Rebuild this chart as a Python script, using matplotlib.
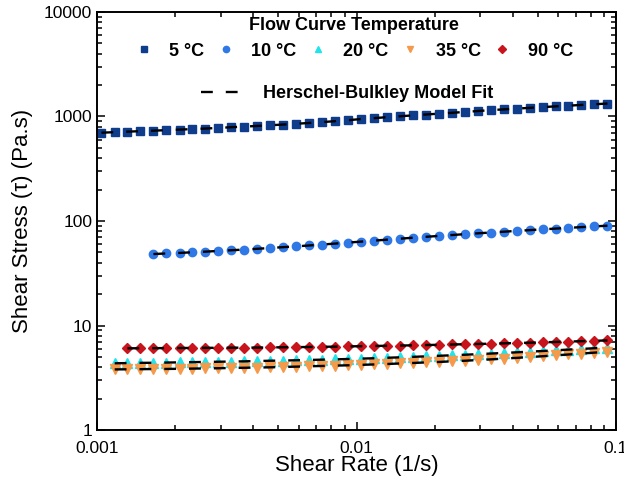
import matplotlib
matplotlib.use("Agg")
import matplotlib.pyplot as plt
from matplotlib.lines import Line2D
from matplotlib.ticker import FixedLocator, LogLocator, NullFormatter

plt.rcParams["font.family"] = ["Liberation Sans", "DejaVu Sans"]

# shear rate sweep (1/s), shared by every flow curve
shear_rate = [
    0.00104, 0.00117, 0.00131, 0.00147, 0.00165, 0.00185, 0.00208, 0.00233, 0.00261, 0.00293,
    0.00329, 0.00369, 0.00414, 0.00465, 0.00521, 0.00585, 0.00656, 0.00736, 0.00826, 0.00927,
    0.0104, 0.0117, 0.0131, 0.0147, 0.0165, 0.0185, 0.0208, 0.0233, 0.0261, 0.0293,
    0.0329, 0.0369, 0.0414, 0.0465, 0.0521, 0.0585, 0.0656, 0.0736, 0.0826, 0.0927,
]

# shear stress per temperature; first index into shear_rate given in start_idx
stress_5 = [
    700, 708, 716, 724, 732, 740, 749, 758, 767, 777,
    790, 800, 812, 824, 838, 852, 867, 884, 902, 922,
    945, 965, 985, 1005, 1025, 1045, 1065, 1085, 1105, 1128,
    1150, 1170, 1190, 1210, 1230, 1250, 1270, 1290, 1310, 1330,
]
stress_10 = [
    48.3, 48.9, 49.5, 50.2, 50.9, 51.7,
    52.5, 53.3, 54.2, 55.2, 56.2, 57.2, 58.3, 59.5, 60.8, 62.1,
    63.5, 64.9, 66.3, 67.7, 69.2, 70.6, 72.0, 73.4, 74.8, 76.2,
    77.6, 79.0, 80.4, 81.8, 83.2, 84.6, 86.0, 87.4, 88.8, 90.2,
]
stress_20 = [
    4.35, 4.37, 4.39, 4.40, 4.42, 4.44, 4.46, 4.48, 4.50,
    4.52, 4.54, 4.57, 4.60, 4.62, 4.65, 4.68, 4.71, 4.74, 4.78,
    4.82, 4.86, 4.91, 4.96, 5.01, 5.07, 5.13, 5.19, 5.25, 5.32,
    5.39, 5.46, 5.54, 5.62, 5.70, 5.79, 5.88, 5.97, 6.06, 6.15,
]
stress_35 = [
    3.80, 3.81, 3.82, 3.83, 3.84, 3.85, 3.87, 3.88, 3.90,
    3.92, 3.94, 3.96, 3.98, 4.01, 4.04, 4.07, 4.10, 4.13, 4.16,
    4.20, 4.24, 4.28, 4.33, 4.38, 4.43, 4.48, 4.54, 4.60, 4.67,
    4.74, 4.82, 4.90, 4.99, 5.08, 5.18, 5.28, 5.39, 5.50, 5.62,
]
stress_90 = [
    6.05, 6.06, 6.07, 6.08, 6.09, 6.10, 6.11, 6.12,
    6.13, 6.14, 6.15, 6.17, 6.19, 6.21, 6.23, 6.25, 6.28, 6.31,
    6.34, 6.37, 6.40, 6.43, 6.46, 6.50, 6.54, 6.58, 6.62, 6.66,
    6.70, 6.75, 6.80, 6.85, 6.90, 6.96, 7.02, 7.08, 7.14, 7.20,
]

labels = ["5 °C", "10 °C", "20 °C", "35 °C", "90 °C"]
series = [stress_5, stress_10, stress_20, stress_35, stress_90]
start_idx = [0, 4, 1, 1, 2]
colors = ["#0f3d8c", "#2f78e6", "#22e3ea", "#f59a4a", "#c8141c"]
markers = ["s", "o", "^", "v", "D"]
msizes = [5.5, 6, 6.5, 6.5, 5.2]

fig = plt.figure(figsize=(6.24, 4.94), dpi=100)
ax = fig.add_axes([97 / 624, 64 / 494, 519 / 624, 418 / 494])

dash = (0, (5.0, 5.5))
handles = []
for y, i0, lab, c, m, ms in zip(series, start_idx, labels, colors, markers, msizes):
    x = shear_rate[i0:i0 + len(y)]
    h, = ax.plot(x, y, ls="none", marker=m, ms=ms, color=c, mec=c, label=lab, zorder=2)
    ax.plot(x, y, ls=dash, color="black", lw=1.7, zorder=3)
    handles.append(h)

ax.set_xscale("log")
ax.set_yscale("log")
ax.set_xlim(0.001, 0.1)
ax.set_ylim(1, 10000)

ax.xaxis.set_major_locator(FixedLocator([0.001, 0.01, 0.1]))
ax.set_xticklabels(["0.001", "0.01", "0.1"])
ax.yaxis.set_major_locator(FixedLocator([1, 10, 100, 1000, 10000]))
ax.set_yticklabels(["1", "10", "100", "1000", "10000"])
for axis in (ax.xaxis, ax.yaxis):
    axis.set_minor_locator(LogLocator(base=10, subs=range(2, 10), numticks=20))
    axis.set_minor_formatter(NullFormatter())

ax.tick_params(which="both", direction="in", top=True, right=True, width=1.1, labelsize=12.5)
ax.tick_params(which="major", length=6)
ax.tick_params(which="minor", length=3.5)
ax.tick_params(axis="x", pad=8)
for sp in ax.spines.values():
    sp.set_linewidth(1.4)

ax.set_xlabel("Shear Rate (1/s)", fontsize=16, labelpad=-1)
ax.set_ylabel("Shear Stress (τ) (Pa.s)", fontsize=16, labelpad=8)

leg = ax.legend(handles=handles, ncol=5, loc="upper center", bbox_to_anchor=(0.495, 1.028),
                frameon=False, markerscale=0.75, handlelength=1.0, handletextpad=0.9,
                columnspacing=0.7, title="Flow Curve Temperature",
                prop={"weight": "bold", "size": 13},
                title_fontproperties={"weight": "bold", "size": 13})
ax.add_artist(leg)

fit_handle = Line2D([], [], ls=dash, color="black", lw=1.7)
ax.legend(handles=[fit_handle], labels=["Herschel-Bulkley Model Fit"], loc="center",
          bbox_to_anchor=(0.482, 0.805), frameon=False, handlelength=2.1, handletextpad=1.3,
          prop={"weight": "bold", "size": 13})

fig.savefig("out.png", dpi=100)
